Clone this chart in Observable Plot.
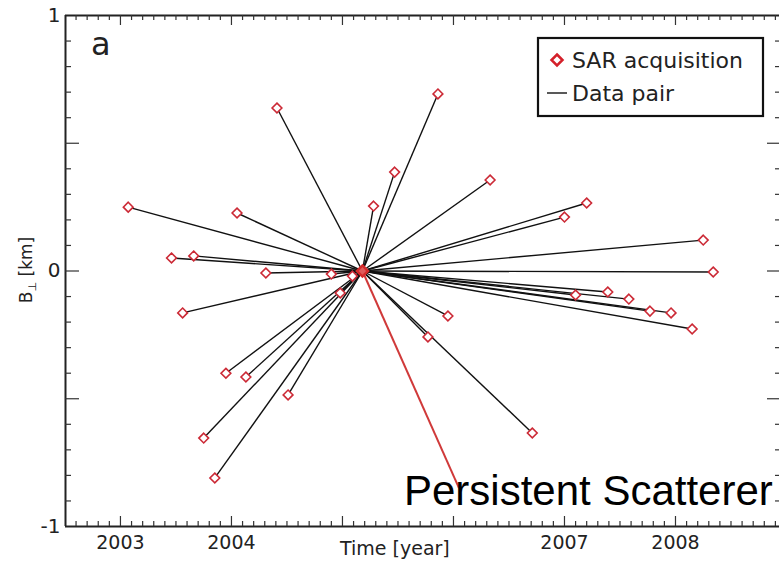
<!DOCTYPE html>
<html><head><meta charset="utf-8">
<script src="https://cdn.jsdelivr.net/npm/d3@7"></script>
<script src="https://cdn.jsdelivr.net/npm/@observablehq/plot@0.6"></script>
<style>html,body{margin:0;padding:0;background:#fff;overflow:hidden}</style>
</head><body><div id="chart"></div>
<script>
// SAR acquisitions (time in decimal years, perpendicular baseline in km)
const acqYear = [2003.07, 2003.46, 2003.66, 2003.56, 2004.05, 2004.31, 2004.41, 2004.90,
  2003.95, 2004.13, 2004.51, 2003.75, 2003.85, 2004.98, 2005.09,
  2005.28, 2005.47, 2005.86, 2006.33, 2007.00, 2007.20, 2008.25, 2008.34,
  2007.10, 2007.39, 2007.58, 2007.77, 2007.96, 2008.15, 2005.95, 2005.77, 2006.71];
const acqBperp = [0.250, 0.051, 0.059, -0.164, 0.227, -0.008, 0.638, -0.012,
  -0.400, -0.415, -0.485, -0.654, -0.810, -0.086, -0.020,
  0.254, 0.387, 0.693, 0.356, 0.211, 0.266, 0.121, -0.004,
  -0.094, -0.082, -0.110, -0.157, -0.164, -0.227, -0.176, -0.258, -0.634];
const masterYear = 2005.18;
const masterBperp = 0;
const psYear = 2006.05;
const psBperp = -0.85;
const xTickLabels = [2003, 2004, 2007, 2008];
const yTickLabels = [-1, 0, 1];
const xDomain = [2002.505, 2008.955];
const yDomain = [-1, 1];

const acq = acqYear.map((x, i) => ({x, y: acqBperp[i]}));
const master = [{x: masterYear, y: masterBperp}];
const psPair = [{x1: masterYear, y1: masterBperp, x2: psYear, y2: psBperp}];

const W = 779, H = 563, mL = 65, mT = 15, mB = 37;
const pxX = (xDomain[1] - xDomain[0]) / (781 - mL); // years per px
const pxY = (yDomain[1] - yDomain[0]) / (H - mB - mT); // km per px

const minorX = d3.range(-4, 60).map(i => ({v: 2003 + i / 10, major: i % 10 === 0}));
const minorY = d3.range(-9, 10).map(i => ({v: i / 10, major: i % 5 === 0}));

const plot = Plot.plot({
  width: W, height: H,
  marginLeft: mL, marginRight: 0, marginTop: mT, marginBottom: mB,
  x: {domain: xDomain, range: [mL, 781]},
  y: {domain: yDomain},
  style: {fontFamily: "DejaVu Sans", background: "#fff", color: "#222"},
  marks: [
    // data-pair lines
    Plot.link(acq, {x1: () => masterYear, y1: () => masterBperp, x2: "x", y2: "y", stroke: "#111", strokeWidth: 1.4}),
    Plot.link(psPair, {x1: "x1", y1: "y1", x2: "x2", y2: "y2", stroke: "#d03a3a", strokeWidth: 2}),
    Plot.dot(acq, {x: "x", y: "y", symbol: "diamond2", r: 4.4, stroke: "#cc2a36", strokeWidth: 1.6, fill: "#fff"}),
    Plot.dot(master, {x: "x", y: "y", symbol: "diamond2", r: 5, stroke: "#d42a2a", strokeWidth: 2.5, fill: "#e05a5a"}),
    // frame
    Plot.ruleY(yDomain, {stroke: "#222", strokeWidth: 1.8}),
    Plot.ruleX([xDomain[0]], {stroke: "#222", strokeWidth: 2}),
    // x ticks bottom & top (inward)
    Plot.ruleX(minorX, {x: "v", y1: yDomain[0], y2: d => yDomain[0] + (d.major ? 10 : 5) * pxY, stroke: "#333", strokeWidth: 1.2}),
    Plot.ruleX(minorX, {x: "v", y1: yDomain[1], y2: d => yDomain[1] - (d.major ? 10 : 5) * pxY, stroke: "#333", strokeWidth: 1.2}),
    // y ticks left & right (inward)
    Plot.ruleY(minorY, {y: "v", x1: xDomain[0], x2: d => xDomain[0] + (d.major ? 14 : 6) * pxX, stroke: "#333", strokeWidth: 1.2}),
    Plot.ruleY(minorY, {y: "v", x1: xDomain[1], x2: d => xDomain[1] - (d.major ? 14 : 6) * pxX, stroke: "#333", strokeWidth: 1.2}),
    Plot.axisX(xTickLabels, {anchor: "bottom", tickSize: 0, tickPadding: 9, fontSize: 19, tickFormat: d => String(d), label: null}),
    Plot.axisY(yTickLabels, {anchor: "left", tickSize: 0, tickPadding: 5, fontSize: 20, tickFormat: d => String(d), label: null})
  ]
});
document.getElementById("chart").appendChild(plot);

const svg = d3.select(plot);
const g = svg.append("g").attr("font-family", "DejaVu Sans").attr("fill", "#222").attr("text-anchor", "start");
g.append("text").attr("x", 91).attr("y", 55).attr("font-size", 32).text("a");
g.append("text").attr("x", 340).attr("y", 555).attr("font-size", 19).text("Time [year]");
const yl = g.append("text").attr("transform", "translate(32,270) rotate(-90)").attr("text-anchor", "middle").attr("font-size", 17);
yl.append("tspan").text("B");
yl.append("tspan").attr("font-size", 11).attr("dy", 4).text("⊥");
yl.append("tspan").attr("dy", -4).text(" [km]");
// legend
g.append("rect").attr("x", 538).attr("y", 38).attr("width", 225).attr("height", 78)
  .attr("fill", "#fff").attr("stroke", "#111").attr("stroke-width", 2.2);
g.append("path").attr("d", "M557,54.5L562.5,60L557,65.5L551.5,60Z").attr("fill", "#fff")
  .attr("stroke", "#d4202a").attr("stroke-width", 2.5);
g.append("text").attr("x", 572).attr("y", 68).attr("font-size", 22).text("SAR acquisition");
g.append("line").attr("x1", 547).attr("x2", 567).attr("y1", 93).attr("y2", 93).attr("stroke", "#222").attr("stroke-width", 1.5);
g.append("text").attr("x", 572).attr("y", 101).attr("font-size", 22).text("Data pair");
svg.append("text").attr("x", 404).attr("y", 505).attr("text-anchor", "start")
  .attr("font-family", "Liberation Sans, Arial, sans-serif")
  .attr("font-size", 42).attr("fill", "#000").text("Persistent Scatterer");
</script></body></html>
